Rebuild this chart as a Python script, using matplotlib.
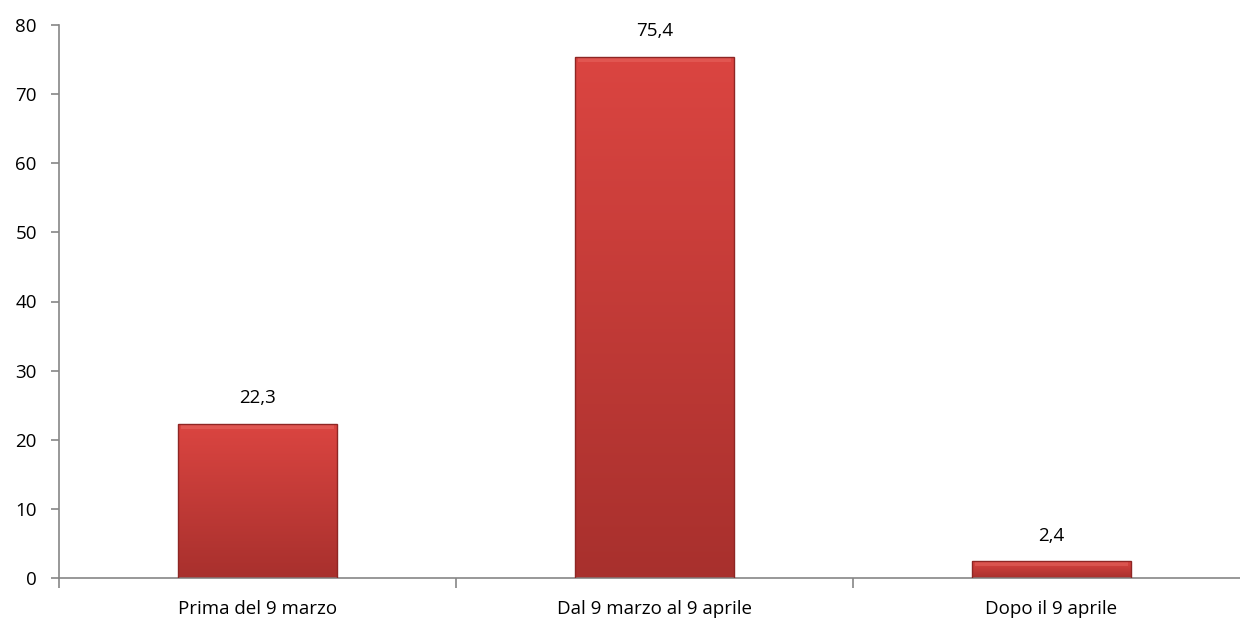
import numpy as np
import matplotlib.pyplot as plt
from matplotlib.patches import Rectangle
from matplotlib.ticker import FixedLocator

categories = ['Prima del 9 marzo', 'Dal 9 marzo al 9 aprile', 'Dopo il 9 aprile']
values = [22.3, 75.4, 2.4]
value_labels = ['22,3', '75,4', '2,4']
y_ticks = [0, 10, 20, 30, 40, 50, 60, 70, 80]

plt.rcParams['font.family'] = ['Open Sans', 'DejaVu Sans']

fig = plt.figure(figsize=(12.4, 6.19), dpi=100)
ax = fig.add_axes([59 / 1240, 1 - 578 / 619, (1240 - 59) / 1240, (578 - 25) / 619])

x = np.arange(len(categories))
width = 0.4
bars = ax.bar(x, values, width=width, color='none', edgecolor='none', zorder=2)

# vertical gradient inside each bar: lighter at top, darker at bottom
grad = np.linspace(0, 1, 256).reshape(-1, 1)
cmap = plt.matplotlib.colors.LinearSegmentedColormap.from_list('bar', ['#a8302d', '#db4541'])
for b in bars:
    x0, y0, w, h = b.get_x(), b.get_y(), b.get_width(), b.get_height()
    im = ax.imshow(grad, cmap=cmap, aspect='auto', origin='lower',
                   extent=(x0, x0 + w, y0, y0 + h), zorder=2)
    im.set_clip_path(b)
    # bevel: light top strip, darker edge
    top_h = min(0.8, h * 0.3)
    ax.add_patch(Rectangle((x0 + 0.008, y0 + h - top_h), w - 0.016, top_h,
                           facecolor='#ef7a72', edgecolor='none', alpha=0.35, zorder=3))
    ax.add_patch(Rectangle((x0, y0), w, h, fill=False,
                           edgecolor='#8e2624', linewidth=1.0, zorder=3))

for xi, v, lab in zip(x, values, value_labels):
    ax.annotate(lab, (xi, v), xytext=(0, 12), textcoords='offset points',
                ha='center', va='bottom', fontsize=13.5, color='black')

ax.set_xlim(-0.5, 2.5 - 10 / 397)
ax.set_ylim(0, 80)
ax.set_yticks(y_ticks)
ax.set_xticks(x)
ax.set_xticklabels(categories)
ax.xaxis.set_major_locator(FixedLocator(x))
ax.xaxis.set_minor_locator(FixedLocator([-0.5, 0.5, 1.5]))

for s in ['top', 'right']:
    ax.spines[s].set_visible(False)
for s in ['left', 'bottom']:
    ax.spines[s].set_color('#868686')
    ax.spines[s].set_linewidth(1.2)

ax.tick_params(axis='y', length=6, color='#868686', labelsize=13.5, pad=10, width=1.2)
ax.tick_params(axis='x', which='major', length=0, labelsize=13.5, pad=16)
ax.tick_params(axis='x', which='minor', length=7, color='#868686', width=1.2)

plt.savefig('out.png', dpi=100)
